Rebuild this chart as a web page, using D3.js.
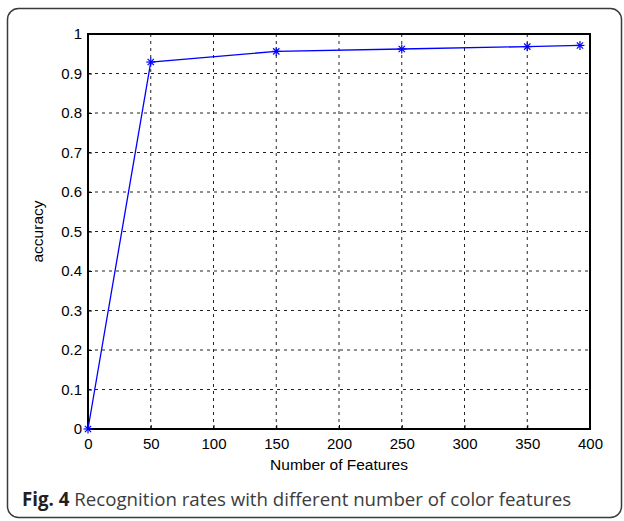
<!DOCTYPE html>
<html>
<head>
<meta charset="utf-8">
<title>Recognition rates</title>
<script src="https://cdn.jsdelivr.net/npm/d3@7"></script>
<style>
    body { margin: 0; background: #fff; }
    svg { display: block; }
</style>
</head>
<body>
<div id="chart"></div>
<script>
    const width = 624, height = 521;

    // data
    const features = [0, 50, 150, 250, 350, 392];
    const accuracy = [0, 0.929, 0.956, 0.962, 0.968, 0.971];
    const xTicks = [0, 50, 100, 150, 200, 250, 300, 350, 400];
    const yTicks = [0, 0.1, 0.2, 0.3, 0.4, 0.5, 0.6, 0.7, 0.8, 0.9, 1];
    const xTitle = "Number of Features";
    const yTitle = "accuracy";
    const captionBold = "Fig. 4";
    const captionText = "Recognition rates with different number of color features";

    const margin = { top: 34, right: 34, bottom: 92, left: 88 };
    const pw = 590 - margin.left, ph = 429 - margin.top;

    const svg = d3.select("#chart").append("svg")
        .attr("width", width)
        .attr("height", height);

    // frame round the whole figure
    svg.append("rect")
        .attr("x", 7.5).attr("y", 8.5)
        .attr("width", 614).attr("height", 509)
        .attr("rx", 11).attr("ry", 11)
        .attr("fill", "none")
        .attr("stroke", "#3a3a3a")
        .attr("stroke-width", 1.5);

    const x = d3.scaleLinear().domain([0, 400]).range([0, pw]);
    const y = d3.scaleLinear().domain([0, 1]).range([ph, 0]);

    const g = svg.append("g").attr("transform", `translate(${margin.left},${margin.top})`);

    // dotted grid
    g.append("g")
        .selectAll("line")
        .data(xTicks.filter(d => d > 0 && d < 400))
        .join("line")
        .attr("x1", d => x(d)).attr("x2", d => x(d))
        .attr("y1", 0).attr("y2", ph)
        .attr("stroke", "#222")
        .attr("stroke-dasharray", "3,4");

    g.append("g")
        .selectAll("line")
        .data(yTicks.filter(d => d > 0 && d < 1))
        .join("line")
        .attr("y1", d => y(d)).attr("y2", d => y(d))
        .attr("x1", 0).attr("x2", pw)
        .attr("stroke", "#222")
        .attr("stroke-dasharray", "3,4");

    const tickFont = "'Liberation Sans', Arial, sans-serif";

    const xAxis = g.append("g")
        .attr("transform", `translate(0,${ph})`)
        .call(d3.axisBottom(x).tickValues(xTicks).tickSizeInner(-4).tickSizeOuter(0).tickPadding(9));
    const yAxis = g.append("g")
        .call(d3.axisLeft(y).tickValues(yTicks).tickFormat(d3.format("~g")).tickSizeInner(-4).tickSizeOuter(0).tickPadding(6));

    [xAxis, yAxis].forEach(a => {
        a.select(".domain").remove();
        a.selectAll(".tick line").attr("stroke", "#000");
        a.selectAll("text")
            .attr("fill", "#000")
            .style("font-family", tickFont)
            .style("font-size", "15px");
    });

    // axes box
    g.append("rect")
        .attr("width", pw).attr("height", ph)
        .attr("fill", "none")
        .attr("stroke", "#000")
        .attr("stroke-width", 2);

    // series
    const line = d3.line()
        .x((d, i) => x(features[i]))
        .y(d => y(d));

    g.append("path")
        .datum(accuracy)
        .attr("fill", "none")
        .attr("stroke", "#0000ff")
        .attr("stroke-width", 1.3)
        .attr("d", line);

    const star = g.append("g")
        .selectAll("g")
        .data(accuracy)
        .join("g")
        .attr("transform", (d, i) => `translate(${x(features[i])},${y(d)})`)
        .attr("stroke", "#0000ff")
        .attr("stroke-width", 1.2);
    const r = 4.5;
    star.append("line").attr("x1", 0).attr("x2", 0).attr("y1", -r).attr("y2", r);
    star.append("line").attr("x1", -r).attr("x2", r).attr("y1", 0).attr("y2", 0);
    star.append("line").attr("x1", -r * 0.7).attr("x2", r * 0.7).attr("y1", -r * 0.7).attr("y2", r * 0.7);
    star.append("line").attr("x1", -r * 0.7).attr("x2", r * 0.7).attr("y1", r * 0.7).attr("y2", -r * 0.7);

    // axis titles
    svg.append("text")
        .attr("x", margin.left + pw / 2)
        .attr("y", 470)
        .attr("text-anchor", "middle")
        .style("font-family", tickFont)
        .style("font-size", "15.5px")
        .text(xTitle);

    svg.append("text")
        .attr("transform", `translate(43,${margin.top + ph / 2}) rotate(-90)`)
        .attr("text-anchor", "middle")
        .style("font-family", tickFont)
        .style("font-size", "15.5px")
        .text(yTitle);

    // caption
    const cap = svg.append("text")
        .attr("x", 22)
        .attr("y", 506)
        .style("font-family", "'Open Sans', sans-serif")
        .style("font-size", "18.7px");
    cap.append("tspan")
        .attr("font-weight", "bold")
        .attr("fill", "#231f20")
        .text(captionBold);
    cap.append("tspan")
        .attr("fill", "#3c3c3c")
        .text(" " + captionText);
</script>
</body>
</html>
